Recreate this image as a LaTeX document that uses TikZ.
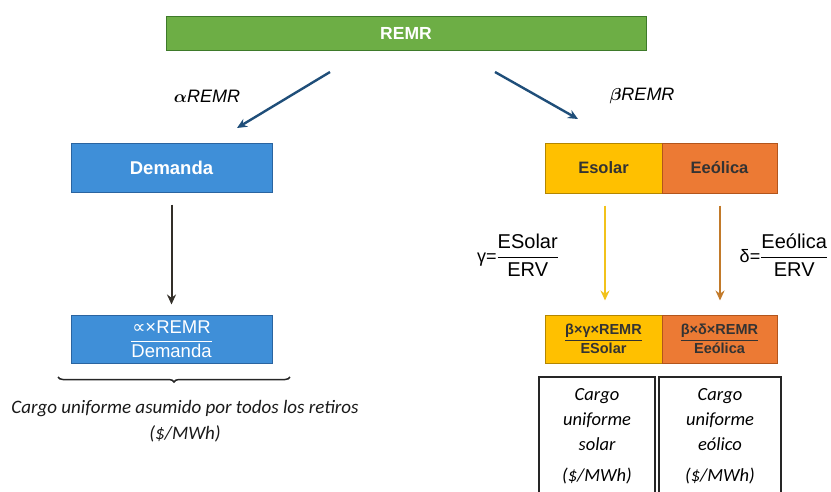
\documentclass[tikz,border=0pt]{standalone}
\usepackage{amsmath}
\usepackage{fontspec}
\setmainfont{Liberation Sans}
\newfontfamily\carl{Carlito}
\newfontfamily\dejav{DejaVu Sans}
\usetikzlibrary{decorations.pathreplacing,arrows.meta}
\definecolor{grn}{HTML}{6DAE45}
\definecolor{grnd}{HTML}{3E7A2A}
\definecolor{blu}{HTML}{3F8FD8}
\definecolor{blud}{HTML}{2A64A0}
\definecolor{gold}{HTML}{FFC000}
\definecolor{goldd}{HTML}{B38600}
\definecolor{orng}{HTML}{EC7A34}
\definecolor{orngd}{HTML}{B2551C}
\definecolor{navy}{HTML}{1F4E79}
\definecolor{yarr}{HTML}{F2C21B}
\definecolor{barr}{HTML}{C27A2A}
\tikzset{
  box/.style={draw, line width=1pt, inner sep=0pt},
  gbox/.style={box, fill=grn, draw=grnd, text=white, font=\bfseries\fontsize{17.5}{20}\selectfont},
  bbox/.style={box, fill=blu, draw=blud, text=white, font=\bfseries\fontsize{18.5}{21}\selectfont},
  ybox/.style={box, fill=gold, draw=goldd, text=black!80, font=\bfseries\fontsize{16.5}{19}\selectfont},
  obox/.style={box, fill=orng, draw=orngd, text=black!80, font=\bfseries\fontsize{16.5}{19}\selectfont},
  wbox/.style={draw=black!85, line width=1.3pt, fill=white, align=center, inner sep=0pt,
     font=\carl\itshape\fontsize{18.5}{25}\selectfont},
  arr/.style={-{Stealth[length=10pt,width=9pt]}, line width=2.4pt},
  captxt/.style={font=\carl\itshape\fontsize{19}{22}\selectfont, text=black!90},
}
\begin{document}
\begin{tikzpicture}[x=1pt,y=-1pt]
\clip (0,0) rectangle (831,491);
\useasboundingbox (0,0) rectangle (831,491);
% top
\node[gbox, minimum width=480, minimum height=34] (remr) at (406,33) {REMR};
\coordinate (a1s) at (330,72); \coordinate (a1e) at (237,128);
\coordinate (a2s) at (495,72); \coordinate (a2e) at (578,119);
\draw[arr, navy] (a1s) -- (a1e);
\draw[arr, navy] (a2s) -- (a2e);
\node[font=\fontsize{18}{20}\selectfont] (alab) at (207,96) {$\boldsymbol{\alpha} \mathbf{\mathit{REMR}}$};
\node[font=\fontsize{18}{20}\selectfont] (blab) at (642,96) {$\boldsymbol{\beta} \mathbf{\mathit{REMR}}$};
% left
\node[bbox, minimum width=201, minimum height=49] (dem) at (171.5,167.5) {Demanda};
\node[bbox, minimum width=201, minimum height=48, font=\fontsize{18.5}{21}\selectfont] (dfr) at (171.5,339)
  {$\dfrac{\text{{\dejav ∝}×REMR}}{\text{Demanda}}$};
\draw[arr, black!85!olive, line width=2pt, shorten <=12pt, shorten >=10pt] (dem) -- (dfr);
\draw[decorate, decoration={brace, mirror, amplitude=5pt}, line width=1.5pt, black!85]
  (58,377) coordinate (bl) -- (290,377) coordinate (br);
\node[captxt] (cap1) at (185,409) {Cargo uniforme asumido por todos los retiros};
\node[captxt] (cap2) at (185,434) {(\$/MWh)};
% right
\node[ybox, minimum width=117, minimum height=50] (es) at (603.5,168) {Esolar};
\node[obox, minimum width=115, minimum height=50] (ee) at (719.5,168) {Eeólica};
\node[ybox, minimum width=117, minimum height=48, font=\bfseries\fontsize{14.5}{16}\selectfont] (fs) at (603.5,339)
  {$\dfrac{\text{β×γ×REMR}}{\text{\bfseries ESolar}}$};
\node[obox, minimum width=115, minimum height=48, font=\bfseries\fontsize{14.5}{16}\selectfont] (fe) at (719.5,339)
  {$\dfrac{\text{β×δ×REMR}}{\text{\bfseries Eeólica}}$};
\draw[arr, yarr, shorten <=12pt, shorten >=14pt] (es.south -| 605,0) -- (fs.north -| 605,0);
\draw[arr, barr, shorten <=12pt, shorten >=14pt] (ee.south -| 720,0) -- (fe.north -| 720,0);
\node[font=\fontsize{20}{22}\selectfont] (gam) at (518,255) {{\fontsize{18}{20}\selectfont γ=}$\dfrac{\text{ESolar}}{\text{ERV}}$};
\node[font=\fontsize{20}{22}\selectfont] (del) at (784,255) {{\fontsize{18}{20}\selectfont δ=}$\dfrac{\text{Eeólica}}{\text{ERV}}$};
\node[wbox, minimum width=116, minimum height=118] (cs) at (597,436) {Cargo\\uniforme\\solar\\[6pt](\$/MWh)};
\node[wbox, minimum width=122, minimum height=118] (ce) at (720,436) {Cargo\\uniforme\\eólico\\[6pt](\$/MWh)};
\end{tikzpicture}
\end{document}
